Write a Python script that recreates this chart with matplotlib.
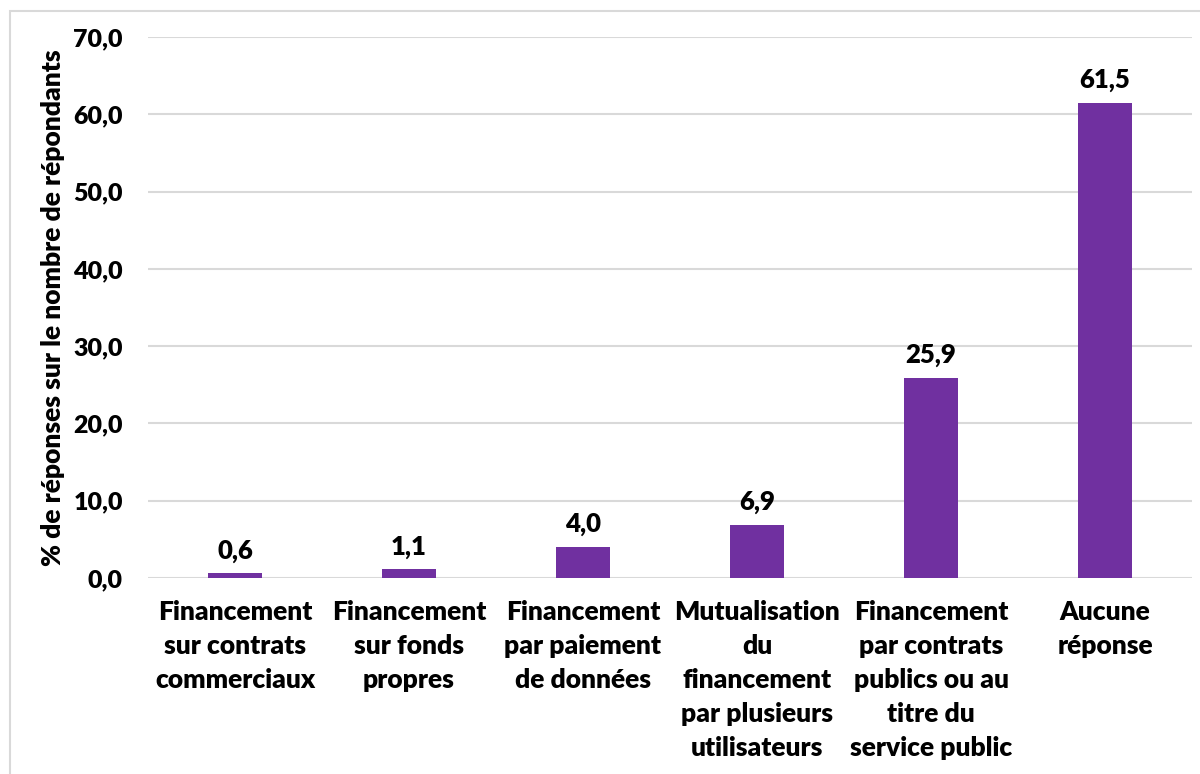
import numpy as np
import matplotlib.pyplot as plt
from matplotlib.patches import Rectangle

# Data
categories = [
    "Financement\nsur contrats\ncommerciaux",
    "Financement\nsur fonds\npropres",
    "Financement\npar paiement\nde données",
    "Mutualisation\ndu\nfinancement\npar plusieurs\nutilisateurs",
    "Financement\npar contrats\npublics ou au\ntitre du\nservice public",
    "Aucune\nréponse",
]
values = [0.6, 1.1, 4.0, 6.9, 25.9, 61.5]
y_ticks = [0, 10, 20, 30, 40, 50, 60, 70]

plt.rcParams['font.family'] = ['Lato', 'DejaVu Sans']
W = 'heavy'

fig = plt.figure(figsize=(12, 7.74), dpi=100)
ax = fig.add_axes([148 / 1200, 1 - 578 / 774, 1044 / 1200, 541 / 774])

# light border around the chart area (cropped on right/bottom)
fig.patches.append(Rectangle((10 / 1200, -0.1), 1.2, 1.1 - 11 / 774,
                             transform=fig.transFigure, fill=False,
                             edgecolor='#D9D9D9', linewidth=1.5, zorder=0))

x = np.arange(len(categories))
bars = ax.bar(x, values, width=0.316, color='#7030A0', zorder=3)

for xi, v in zip(x, values):
    ax.text(xi, v + 1.4, f"{v:.1f}".replace('.', ','), ha='center', va='bottom',
            fontsize=18.5, fontweight=W, color='black')

ax.set_xlim(-0.5, len(categories) - 0.5)
ax.set_ylim(0, 70)
ax.set_yticks(y_ticks)
ax.set_yticklabels([f"{t:.1f}".replace('.', ',') for t in y_ticks],
                   fontsize=18, fontweight=W)
ax.set_xticks(x)
ax.set_xticklabels(categories, linespacing=1.5, fontsize=19, fontweight=W)

ax.tick_params(axis='both', length=0, colors='black')
ax.tick_params(axis='x', pad=16)
ax.tick_params(axis='y', pad=18)

ax.grid(axis='y', color='#D9D9D9', linewidth=1.5, zorder=0)
for s in ax.spines.values():
    s.set_visible(False)

ax.set_ylabel('% de réponses sur le nombre de répondants', fontsize=19,
              fontweight=W, labelpad=6)

fig.savefig('out.png', dpi=100)
